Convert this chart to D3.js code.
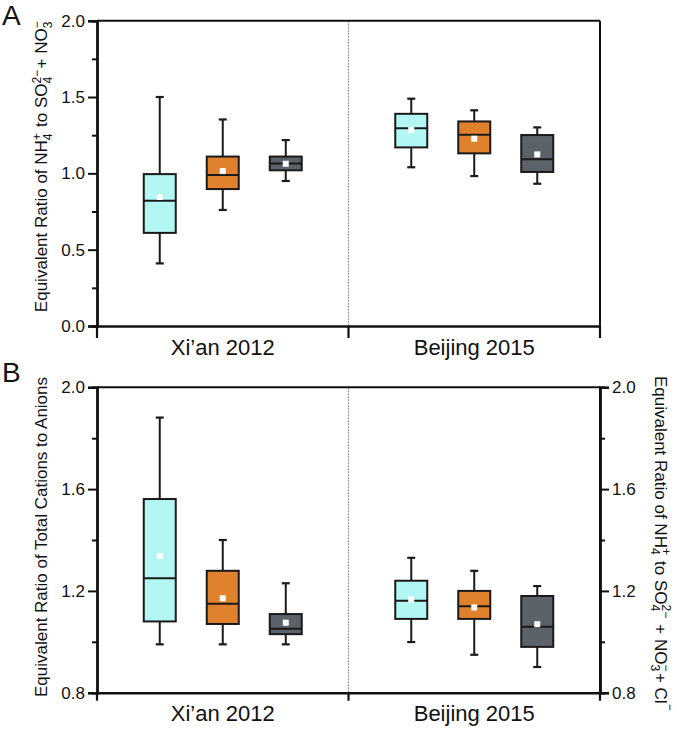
<!DOCTYPE html>
<html><head><meta charset="utf-8">
<script src="https://cdn.jsdelivr.net/npm/d3@7"></script>
<style>
html,body{margin:0;padding:0;background:#fff;}
svg text{font-family:"Liberation Sans",Arial,Helvetica,sans-serif;fill:#111;}
</style></head>
<body><svg id="chart" width="677" height="730"></svg>
<script>
// ---------- data ----------
const categories = ["Xi\u2019an 2012", "Beijing 2015"];
const seriesNames = ["Group 1", "Group 2", "Group 3"];
// Panel A: [city][series]
const aLow  = [[0.41, 0.76, 0.95], [1.04, 0.982, 0.932]];
const aQ1   = [[0.61, 0.897, 1.02], [1.17, 1.131, 1.009]];
const aMed  = [[0.82, 0.99, 1.065], [1.295, 1.253, 1.092]];
const aQ3   = [[0.995, 1.11, 1.11], [1.39, 1.34, 1.251]];
const aHigh = [[1.50, 1.353, 1.218], [1.489, 1.413, 1.301]];
const aMean = [[0.845, 1.015, 1.063], [1.284, 1.227, 1.124]];
// Panel B
const bLow  = [[0.99, 0.99, 0.99], [0.999, 0.949, 0.901]];
const bQ1   = [[1.08, 1.07, 1.03], [1.09, 1.09, 0.98]];
const bMed  = [[1.25, 1.15, 1.051], [1.161, 1.14, 1.059]];
const bQ3   = [[1.561, 1.279, 1.109], [1.24, 1.20, 1.18]];
const bHigh = [[1.881, 1.40, 1.23], [1.33, 1.279, 1.219]];
const bMean = [[1.337, 1.171, 1.075], [1.167, 1.135, 1.069]];
const aTicks = [0.0, 0.5, 1.0, 1.5, 2.0];
const aMinor = [0.25, 0.75, 1.25, 1.75];
const bTicks = [0.8, 1.2, 1.6, 2.0];
const bMinor = [1.0, 1.4, 1.8];

// ---------- style ----------
const colors = ["#b2f7f3", "#e0822d", "#5b6269"];
const svg = d3.select("#chart");
const X0 = 97, X1 = 600;

const x = d3.scaleBand().domain(categories).range([X0, X1]).padding(0);
const xs = d3.scalePoint().domain(seriesNames).range([-63, 63]);
const boxW = 32, capW = 8;

function panel(opt) {
  const g = svg.append("g");
  const y = d3.scaleLinear().domain(opt.domain).range([opt.bottom, opt.top]);

  // divider
  const mid = x(categories[1]);
  g.append("line").attr("x1", mid).attr("x2", mid).attr("y1", opt.top).attr("y2", opt.bottom)
    .attr("stroke", "#999").attr("stroke-width", 1.2).attr("stroke-dasharray", "2,1");

  // boxes
  categories.forEach((c, ci) => {
    seriesNames.forEach((s, si) => {
      const cx = x(c) + x.bandwidth() / 2 + xs(s);
      const bg = g.append("g");
      bg.append("line").attr("x1", cx).attr("x2", cx)
        .attr("y1", y(opt.low[ci][si])).attr("y2", y(opt.high[ci][si]))
        .attr("stroke", "#1a1a1a").attr("stroke-width", 2);
      [opt.low[ci][si], opt.high[ci][si]].forEach(v => {
        bg.append("line").attr("x1", cx - capW / 2).attr("x2", cx + capW / 2)
          .attr("y1", y(v)).attr("y2", y(v)).attr("stroke", "#1a1a1a").attr("stroke-width", 2.2);
      });
      bg.append("rect").attr("x", cx - boxW / 2).attr("width", boxW)
        .attr("y", y(opt.q3[ci][si])).attr("height", y(opt.q1[ci][si]) - y(opt.q3[ci][si]))
        .attr("fill", colors[si]).attr("stroke", "#1a1a1a").attr("stroke-width", 2);
      bg.append("line").attr("x1", cx - boxW / 2).attr("x2", cx + boxW / 2)
        .attr("y1", y(opt.med[ci][si])).attr("y2", y(opt.med[ci][si]))
        .attr("stroke", "#1a1a1a").attr("stroke-width", 2);
      bg.append("rect").attr("x", cx - 3).attr("y", y(opt.mean[ci][si]) - 3)
        .attr("width", 6).attr("height", 6).attr("fill", "#fff");
    });
  });

  // frame: top + right
  g.append("line").attr("x1", X0).attr("x2", X1).attr("y1", opt.top).attr("y2", opt.top)
    .attr("stroke", "#111").attr("stroke-width", 2);
  g.append("line").attr("x1", X1).attr("x2", X1).attr("y1", opt.top).attr("y2", opt.bottom)
    .attr("stroke", "#111").attr("stroke-width", 2);

  // left axis
  const left = g.append("g").attr("transform", `translate(${X0},0)`)
    .call(d3.axisLeft(y).tickValues(opt.ticks).tickSize(9).tickPadding(3).tickFormat(d3.format(".1f")));
  g.append("g").attr("transform", `translate(${X0},0)`)
    .call(d3.axisLeft(y).tickValues(opt.minor).tickSize(5).tickFormat(""));
  left.selectAll("text").attr("font-size", 17);
  // right axis
  if (opt.right) {
    const r = g.append("g").attr("transform", `translate(${X1},0)`)
      .call(d3.axisRight(y).tickValues(opt.ticks).tickSize(9).tickPadding(3).tickFormat(d3.format(".1f")));
    r.selectAll("text").attr("font-size", 17);
    g.append("g").attr("transform", `translate(${X1},0)`)
      .call(d3.axisRight(y).tickValues(opt.minor).tickSize(5).tickFormat(""));
  }
  // bottom axis
  const bottom = g.append("g").attr("transform", `translate(0,${opt.bottom})`)
    .call(d3.axisBottom(x).tickSize(0).tickPadding(13));
  bottom.selectAll("text").attr("font-size", 22).attr("dy", "0.71em");
  const edges = [X0, x(categories[1]), X1];
  g.selectAll(".xedge").data(edges).enter().append("line")
    .attr("x1", d => d).attr("x2", d => d).attr("y1", opt.bottom).attr("y2", opt.bottom + opt.xTick)
    .attr("stroke", "#111").attr("stroke-width", 2.2);

  g.selectAll(".domain").attr("stroke", "#111").attr("stroke-width", 2.4);
  g.selectAll(".tick line").attr("stroke", "#111").attr("stroke-width", 2);
  return {g, y};
}

panel({domain: [0, 2], top: 20.7, bottom: 326, ticks: aTicks, minor: aMinor,
  low: aLow, q1: aQ1, med: aMed, q3: aQ3, high: aHigh, mean: aMean, right: false, xTick: 12});
panel({domain: [0.8, 2.0], top: 387.3, bottom: 692.7, ticks: bTicks, minor: bMinor,
  low: bLow, q1: bQ1, med: bMed, q3: bQ3, high: bHigh, mean: bMean, right: true, xTick: 8});

// panel letters
svg.append("text").attr("x", 2).attr("y", 25).attr("font-size", 28).text("A");
svg.append("text").attr("x", 2).attr("y", 382).attr("font-size", 28).text("B");

// axis titles
function chemLabel(t, parts) {
  parts.forEach(p => {
    if (p.t) t.append("tspan").text(p.t);
    else {
      t.append("tspan").attr("font-size", 12).attr("dy", 4.5).text(p.sub);
      t.append("tspan").attr("font-size", 12).attr("dx", -p.w).attr("dy", -11).text(p.sup);
      t.append("tspan").attr("dy", 6.5).text("\u200A");
    }
  });
}
const fs = 17;
const tA = svg.append("text").attr("font-size", fs).attr("text-anchor", "middle")
  .attr("transform", "translate(47,166) rotate(-90)");
chemLabel(tA, [{t: "Equivalent Ratio of NH"}, {sub: "4", sup: "+", w: 6.7},
  {t: " to SO"}, {sub: "4", sup: "2\u2212", w: 6.7}, {t: "+ NO"}, {sub: "3", sup: "\u2212", w: 6.7}]);

svg.append("text").attr("font-size", fs).attr("text-anchor", "middle")
  .attr("transform", "translate(47,537) rotate(-90)")
  .text("Equivalent Ratio of Total Cations to Anions");

const tB = svg.append("text").attr("font-size", fs).attr("text-anchor", "middle")
  .attr("transform", "translate(655,544) rotate(90)");
chemLabel(tB, [{t: "Equivalent Ratio of NH"}, {sub: "4", sup: "+", w: 6.7},
  {t: " to SO"}, {sub: "4", sup: "2\u2212", w: 6.7}, {t: " + NO"}, {sub: "3", sup: "\u2212", w: 6.7},
  {t: "+ Cl"}, {sub: "", sup: "\u2212", w: 0}]);
</script></body></html>
